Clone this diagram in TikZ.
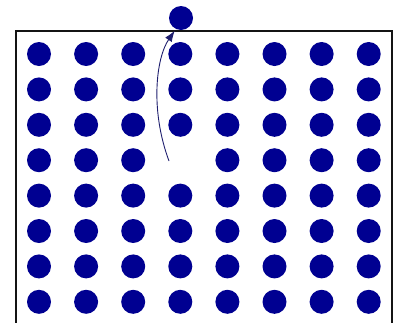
\documentclass[tikz,border=0pt]{standalone}
\usetikzlibrary{positioning,arrows.meta}
\definecolor{dotBlue}{RGB}{0,0,145}
\definecolor{arrowBlue}{RGB}{30,30,110}
\definecolor{frameDark}{RGB}{20,20,20}

\begin{document}
\begin{tikzpicture}[x=1pt,y=-1pt,
      dot/.style={circle,fill=dotBlue,inner sep=0pt,minimum size=24pt},
      frame/.style={draw=frameDark,line width=1.1pt},
      arr/.style={-{Latex[length=11pt,width=8pt]},arrowBlue,line width=0.9pt}]
    \useasboundingbox (0,0) rectangle (403,322);
    \draw[frame] (16,330) |- (392,31) -- (392,330);
    % grid of dots, one left empty
    \foreach \i in {1,...,8}
      \foreach \j in {1,...,8} {
        \ifnum\i=4 \ifnum\j=4 \else
          \node[dot] (d-\i-\j) at ({39+47.1*(\i-1)},{54+35.4*(\j-1)}) {};
        \fi \else
          \node[dot] (d-\i-\j) at ({39+47.1*(\i-1)},{54+35.4*(\j-1)}) {};
        \fi
      }
    \node[dot] (top) at (181,18) {};
    \coordinate (hole) at (169,161);
    \draw[arr,shorten >=2pt] (hole) .. controls (150,110) and (156,58) .. (top.245);
  \end{tikzpicture}
\end{document}
